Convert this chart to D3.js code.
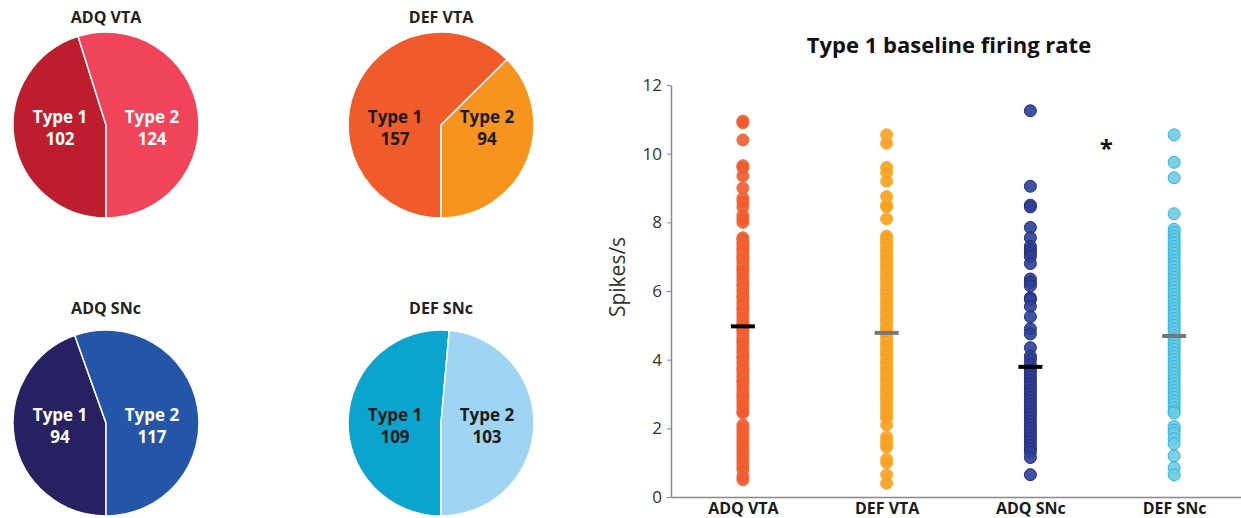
<!DOCTYPE html>
<html>
<head>
<meta charset="utf-8">
<script src="https://cdn.jsdelivr.net/npm/d3@7"></script>
<style>
  body { margin: 0; background: #fff; }
  text { font-family: "Open Sans", "DejaVu Sans", sans-serif; }
</style>
</head>
<body>
<div id="chart"></div>
<script>
// ---- data ----
const groups = ["ADQ VTA", "DEF VTA", "ADQ SNc", "DEF SNc"];
const type1Counts = [102, 157, 94, 109];
const type2Counts = [124, 94, 117, 103];
const type1Colors = ["#bd1e2e", "#f15a29", "#262262", "#0ba4cf"];
const type2Colors = ["#ef4459", "#f7941e", "#2356a7", "#9fd5f2"];
const pieTextColors = ["#ffffff", "#1a1a1a", "#ffffff", "#1a1a1a"];

const adqVta = [10.95, 10.9, 10.4, 9.65, 9.6, 9.35, 9.0, 8.7, 8.6, 8.45, 8.2, 8.1, 8.0,
  7.55, 7.5, 7.4, 7.35, 7.25, 7.2, 7.1, 7.0, 6.95, 6.85, 6.75, 6.65, 6.6, 6.5, 6.4, 6.3,
  6.2, 6.15, 6.05, 5.95, 5.85, 5.8, 5.7, 5.6, 5.5, 5.45, 5.35, 5.25, 5.15, 5.05, 5.0,
  4.9, 4.85, 4.75, 4.65, 4.55, 4.5, 4.4, 4.3, 4.2, 4.1, 4.05, 3.95, 3.85, 3.75, 3.7,
  3.6, 3.5, 3.4, 3.35, 3.25, 3.15, 3.05, 2.95, 2.9, 2.8, 2.7, 2.6, 2.5, 2.45,
  2.1, 2.0, 1.9, 1.8, 1.7, 1.6, 1.5, 1.4, 1.3, 1.2, 1.1, 1.0, 0.9, 0.8, 0.6, 0.5];
const defVta = [10.55, 10.3, 9.6, 9.45, 9.2, 8.75, 8.5, 8.45, 8.1,
  7.6, 7.55, 7.45, 7.4, 7.3, 7.2, 7.15, 7.05, 6.95, 6.9, 6.8, 6.7, 6.65, 6.55, 6.45,
  6.4, 6.3, 6.2, 6.15, 6.05, 5.95, 5.9, 5.8, 5.7, 5.65, 5.55, 5.45, 5.4, 5.3, 5.2,
  5.15, 5.05, 4.95, 4.9, 4.8, 4.7, 4.65, 4.55, 4.45, 4.4, 4.3, 4.2, 4.15, 4.05, 3.95,
  3.9, 3.8, 3.7, 3.65, 3.55, 3.45, 3.4, 3.3, 3.2, 3.15, 3.05, 2.95, 2.9, 2.8, 2.7,
  2.6, 2.5, 2.4, 2.3, 2.1, 1.75, 1.65, 1.55, 1.45, 1.1, 1.0, 0.65, 0.4];
const adqSnc = [11.25, 9.05, 8.5, 8.45, 7.85, 7.55, 7.3, 7.2, 7.1, 7.0, 6.8, 6.35,
  6.25, 6.15, 5.8, 5.75, 5.55, 5.25, 4.9, 4.75, 4.35, 4.1, 4.0, 3.85,
  3.7, 3.6, 3.5, 3.4, 3.3, 3.2, 3.1, 3.0, 2.9, 2.8, 2.7, 2.6, 2.5, 2.4, 2.3, 2.2,
  2.1, 2.0, 1.9, 1.8, 1.7, 1.6, 1.5, 1.4, 1.3, 1.15, 0.65];
const defSnc = [10.55, 9.75, 9.3, 8.25, 7.8, 7.7, 7.6, 7.5, 7.4, 7.3, 7.2, 7.1, 7.0,
  6.9, 6.8, 6.7, 6.6, 6.5, 6.4, 6.3, 6.2, 6.1, 6.0, 5.9, 5.8, 5.7, 5.6, 5.5, 5.4,
  5.3, 5.2, 5.1, 5.0, 4.9, 4.8, 4.7, 4.6, 4.5, 4.4, 4.3, 4.2, 4.1, 4.0, 3.9, 3.8,
  3.7, 3.6, 3.5, 3.4, 3.3, 3.2, 3.1, 3.0, 2.9, 2.8, 2.7, 2.6, 2.5, 2.45,
  2.05, 1.95, 1.85, 1.7, 1.55, 1.2, 0.85, 0.65];
const firingRates = [adqVta, defVta, adqSnc, defSnc];
const means = [4.97, 4.78, 3.79, 4.69];
const meanColors = ["#000000", "#777777", "#000000", "#777777"];
const dotFill = ["#f15a2b", "#f8a01c", "#2e3f98", "#6ecce1"];
const dotStroke = ["#f26a3a", "#f9ae36", "#1f2c78", "#27b6e8"];
const yTicks = [0, 2, 4, 6, 8, 10, 12];

const width = 1241, height = 518;
const svg = d3.select("#chart").append("svg")
  .attr("width", width).attr("height", height);

// ---- pies ----
const pieCols = [106, 441], pieRows = [125, 423];
const titleOffsets = [-102, -109];
const radius = 93;
const pie = d3.pie().sort(null).startAngle(Math.PI).endAngle(3 * Math.PI);
const arc = d3.arc().innerRadius(0).outerRadius(radius);

groups.forEach((name, i) => {
  const row = Math.floor(i / 2);
  const cx = pieCols[i % 2], cy = pieRows[row];
  const g = svg.append("g").attr("transform", `translate(${cx},${cy})`);
  const slices = pie([type1Counts[i], type2Counts[i]]);
  g.selectAll("path")
    .data(slices)
    .enter()
    .append("path")
    .attr("d", arc)
    .attr("fill", (d, j) => j === 0 ? type1Colors[i] : type2Colors[i])
    .attr("stroke", "#fff")
    .attr("stroke-width", 1.5);

  g.append("text")
    .attr("x", 0).attr("y", titleOffsets[row])
    .attr("text-anchor", "middle")
    .attr("font-size", 16).attr("font-weight", 700)
    .attr("fill", "#222")
    .text(name);

  slices.forEach((s, j) => {
    const sx = j === 0 ? -46 : 46;
    const t = g.append("text")
      .attr("text-anchor", "middle")
      .attr("font-size", 17).attr("font-weight", 700)
      .attr("fill", pieTextColors[i]);
    t.append("tspan").attr("x", sx).attr("y", -2).text(j === 0 ? "Type 1" : "Type 2");
    t.append("tspan").attr("x", sx).attr("y", 20).text(s.data);
  });
});

// ---- scatter ----
const x = d3.scaleLinear().domain([0.5, 4.5]).range([671, 1246]);
const y = d3.scaleLinear().domain([0, 12]).range([497, 85]);

const yAxis = svg.append("g")
  .attr("transform", "translate(671,0)")
  .call(d3.axisLeft(y).tickValues(yTicks).tickSizeInner(4).tickSizeOuter(0).tickPadding(5));
yAxis.select(".domain").attr("stroke", "#888").attr("stroke-width", 1.5);
yAxis.selectAll(".tick line").attr("stroke", "#888");
yAxis.selectAll(".tick text").attr("font-size", 17).attr("fill", "#333")
  .style("font-family", "'Open Sans', sans-serif");

const xAxis = svg.append("g")
  .attr("transform", "translate(0,497)")
  .call(d3.axisBottom(x).tickValues([1, 2, 3, 4]).tickSize(0).tickPadding(6)
    .tickFormat((d, i) => groups[i]));
xAxis.select(".domain").attr("stroke", "#888").attr("stroke-width", 1.5);
xAxis.selectAll(".tick text").attr("font-size", 16).attr("font-weight", 700)
  .attr("fill", "#1a1a1a").style("font-family", "'Open Sans', sans-serif");

firingRates.forEach((vals, i) => {
  svg.append("g").selectAll("circle")
    .data(vals)
    .enter()
    .append("circle")
    .attr("cx", x(i + 1))
    .attr("cy", d => y(d))
    .attr("r", 6)
    .attr("fill", dotFill[i])
    .attr("fill-opacity", 0.9)
    .attr("stroke", dotStroke[i])
    .attr("stroke-width", 1);
});

svg.append("g").selectAll("line")
  .data(means)
  .enter()
  .append("line")
  .attr("x1", (d, i) => x(i + 1) - 12)
  .attr("x2", (d, i) => x(i + 1) + 12)
  .attr("y1", d => y(d))
  .attr("y2", d => y(d))
  .attr("stroke", (d, i) => meanColors[i])
  .attr("stroke-width", 4);

svg.append("text")
  .attr("x", 949).attr("y", 53)
  .attr("text-anchor", "middle")
  .attr("font-size", 22).attr("font-weight", 700)
  .attr("fill", "#111")
  .text("Type 1 baseline firing rate");

svg.append("text")
  .attr("transform", "translate(625,277) rotate(-90)")
  .attr("text-anchor", "middle")
  .attr("font-size", 21)
  .attr("fill", "#333")
  .text("Spikes/s");

svg.append("text")
  .attr("x", x(3.5) + 4)
  .attr("y", y(10) + 3)
  .attr("text-anchor", "middle")
  .attr("font-size", 24).attr("font-weight", 700)
  .attr("fill", "#111")
  .text("*");
</script>
</body>
</html>
